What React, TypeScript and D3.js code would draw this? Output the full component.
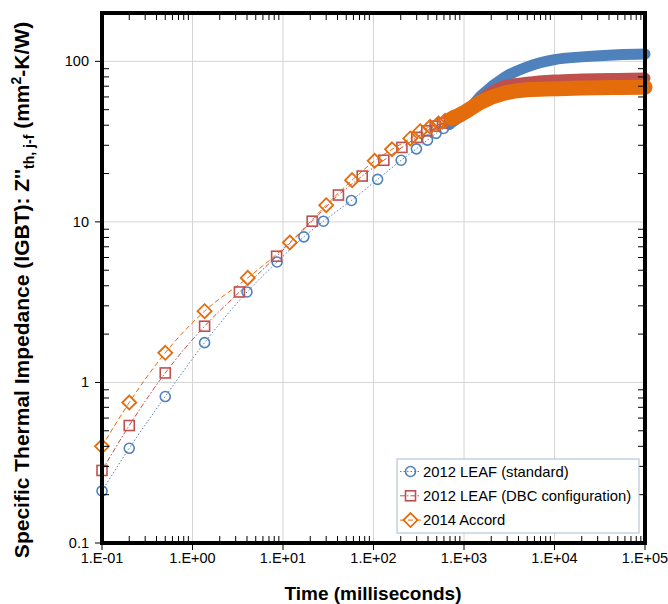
import React, { useEffect, useRef } from "react";
import * as d3 from "d3";

const W = 668;
const H = 604;
const FONT = "'Liberation Sans', Arial, sans-serif";

// 2012 LEAF (standard) - discrete points (ms, mm2-K/W)
const leafStdT = [0.1, 0.2, 0.5, 1.36, 4.0, 8.6, 17, 28, 57, 111, 202, 298, 395, 492, 593, 690];
const leafStdZ = [0.211, 0.389, 0.817, 1.77, 3.66, 5.63, 8.07, 10.1, 13.6, 18.4, 24.2, 28.5, 32.3, 35.6, 38.2, 40.6];
// dense tail (markers merge into a band)
const leafStdBandT = [690, 800, 1000, 1564, 2825, 5000, 10000, 20000, 50000, 100000];
const leafStdBandZ = [40.6, 43, 46.5, 61.5, 79.7, 92.4, 102.5, 106.6, 110, 111];

// 2012 LEAF (DBC configuration)
const leafDbcT = [0.1, 0.2, 0.5, 1.36, 3.3, 8.5, 21, 41, 75, 130, 206, 301, 388, 480, 578, 689];
const leafDbcZ = [0.283, 0.539, 1.146, 2.24, 3.66, 6.11, 10.1, 14.7, 19.3, 24.2, 29.1, 33.6, 36.9, 39.5, 41.3, 43];
const leafDbcBandT = [689, 800, 1000, 1564, 2825, 5000, 10000, 20000, 50000, 100000];
const leafDbcBandZ = [43, 44.5, 47, 58.5, 70.6, 74, 76.4, 77.5, 78.3, 78.6];

// 2014 Accord
const accordT = [0.1, 0.2, 0.5, 1.36, 4.08, 11.9, 30, 58, 103, 160, 255, 328, 423, 522, 618, 731];
const accordZ = [0.4, 0.75, 1.53, 2.78, 4.48, 7.44, 12.7, 18.2, 24, 28.3, 33.1, 36.7, 39.1, 41, 42.6, 44.1];
const accordBandT = [731, 800, 1000, 1564, 2825, 5000, 10000, 20000, 50000, 100000];
const accordBandZ = [44.1, 45, 48, 56, 63.4, 66.5, 67.4, 68.2, 68.8, 69];

const xTicks = [1e-1, 1e0, 1e1, 1e2, 1e3, 1e4, 1e5];
const xTickLabels = ["1.E-01", "1.E+00", "1.E+01", "1.E+02", "1.E+03", "1.E+04", "1.E+05"];
const yTicks = [0.1, 1, 10, 100];
const yTickLabels = ["0.1", "1", "10", "100"];

const seriesNames = ["2012 LEAF (standard)", "2012 LEAF (DBC configuration)", "2014 Accord"];
const seriesColors = ["#4f81bd", "#c0504d", "#e46c0a"];

export default function App() {
  const svgRef = useRef<SVGSVGElement | null>(null);

  useEffect(() => {
    const svg = d3.select(svgRef.current);
    svg.selectAll("*").remove();

    const m = { left: 102, top: 13, right: 645, bottom: 543 };
    const x = d3.scaleLog().domain([0.1, 1e5]).range([m.left, m.right]);
    const y = d3.scaleLog().domain([0.1, 200]).range([m.bottom, m.top]);

    // gridlines
    const grid = svg.append("g").attr("stroke", "#d4d4d4").attr("stroke-width", 1);
    xTicks.slice(1, -1).forEach((t) =>
      grid.append("line").attr("x1", x(t)).attr("x2", x(t)).attr("y1", m.top).attr("y2", m.bottom)
    );
    yTicks.slice(1).forEach((v) =>
      grid.append("line").attr("x1", m.left).attr("x2", m.right).attr("y1", y(v)).attr("y2", y(v))
    );

    const series = [
      { t: leafStdT, z: leafStdZ, bt: leafStdBandT, bz: leafStdBandZ, dash: "1.5,2", band: 11 },
      { t: leafDbcT, z: leafDbcZ, bt: leafDbcBandT, bz: leafDbcBandZ, dash: "5,2,1.5,2", band: 11 },
      { t: accordT, z: accordZ, bt: accordBandT, bz: accordBandZ, dash: "5,3", band: 15 },
    ];

    const line = d3
      .line<[number, number]>()
      .x((d) => x(d[0]))
      .y((d) => y(d[1]))
      .curve(d3.curveMonotoneX);

    const marker = (g: any, i: number, cx: number, cy: number) => {
      const c = seriesColors[i];
      if (i === 0) {
        g.append("circle").attr("cx", cx).attr("cy", cy).attr("r", 5)
          .attr("fill", "none").attr("stroke", c).attr("stroke-width", 1.6);
      } else if (i === 1) {
        g.append("rect").attr("x", cx - 5).attr("y", cy - 5).attr("width", 10).attr("height", 10)
          .attr("fill", "none").attr("stroke", c).attr("stroke-width", 1.6);
      } else {
        g.append("path").attr("d", `M${cx},${cy - 7}L${cx + 7},${cy}L${cx},${cy + 7}L${cx - 7},${cy}Z`)
          .attr("fill", "none").attr("stroke", c).attr("stroke-width", 1.8);
      }
    };

    // connecting lines
    series.forEach((s, i) => {
      const pts = s.t.map((t, k) => [t, s.z[k]] as [number, number]);
      svg.append("path").attr("d", line(pts)).attr("fill", "none")
        .attr("stroke", seriesColors[i]).attr("stroke-width", 1).attr("stroke-dasharray", s.dash);
    });

    // markers and dense bands
    series.forEach((s, i) => {
      const g = svg.append("g");
      s.t.forEach((t, k) => marker(g, i, x(t), y(s.z[k])));
      const bpts = s.bt.map((t, k) => [t, s.bz[k]] as [number, number]);
      g.append("path").attr("d", line(bpts)).attr("fill", "none")
        .attr("stroke", seriesColors[i]).attr("stroke-width", s.band).attr("stroke-linecap", "round");
    });

    // ticks
    const ticks = svg.append("g").attr("stroke", "#000").attr("stroke-width", 1);
    const minorX: number[] = [];
    for (let e = -1; e < 5; e++) for (let k = 2; k < 10; k++) minorX.push(k * Math.pow(10, e));
    const minorY: number[] = [];
    for (let e = -1; e < 3; e++) for (let k = 2; k < 10; k++) {
      const v = k * Math.pow(10, e);
      if (v <= 200) minorY.push(v);
    }
    minorX.forEach((t) => {
      ticks.append("line").attr("x1", x(t)).attr("x2", x(t)).attr("y1", m.bottom).attr("y2", m.bottom - 7);
      ticks.append("line").attr("x1", x(t)).attr("x2", x(t)).attr("y1", m.top).attr("y2", m.top + 7);
    });
    minorY.forEach((v) => {
      ticks.append("line").attr("x1", m.left).attr("x2", m.left + 7).attr("y1", y(v)).attr("y2", y(v));
      ticks.append("line").attr("x1", m.right).attr("x2", m.right - 7).attr("y1", y(v)).attr("y2", y(v));
    });
    xTicks.forEach((t) =>
      ticks.append("line").attr("x1", x(t)).attr("x2", x(t)).attr("y1", m.bottom).attr("y2", m.bottom + 7)
    );
    yTicks.forEach((v) =>
      ticks.append("line").attr("x1", m.left - 7).attr("x2", m.left).attr("y1", y(v)).attr("y2", y(v))
    );

    // frame
    svg.append("rect").attr("x", m.left).attr("y", m.top)
      .attr("width", m.right - m.left).attr("height", m.bottom - m.top)
      .attr("fill", "none").attr("stroke", "#000").attr("stroke-width", 4);

    // tick labels
    svg.append("g").selectAll("text").data(xTicks).join("text")
      .attr("x", (d) => x(d)).attr("y", m.bottom + 20).attr("text-anchor", "middle")
      .attr("font-family", FONT).attr("font-size", 14.5).attr("fill", "#000")
      .text((d, i) => xTickLabels[i]);
    svg.append("g").selectAll("text").data(yTicks).join("text")
      .attr("x", m.left - 13).attr("y", (d) => y(d) + 5).attr("text-anchor", "end")
      .attr("font-family", FONT).attr("font-size", 14.5).attr("fill", "#000")
      .text((d, i) => yTickLabels[i]);

    // axis titles
    svg.append("text").attr("x", 373).attr("y", 600).attr("text-anchor", "middle")
      .attr("font-family", FONT).attr("font-size", 19).attr("font-weight", "bold")
      .text("Time (milliseconds)");

    const yt = svg.append("text").attr("transform", "translate(29,290) rotate(-90)")
      .attr("text-anchor", "middle").attr("font-family", FONT).attr("font-size", 21)
      .attr("font-weight", "bold");
    yt.append("tspan").text("Specific Thermal Impedance (IGBT): Z''");
    yt.append("tspan").attr("font-size", 14).attr("dy", 5).text("th, j-f");
    yt.append("tspan").attr("dy", -5).text(" (mm");
    yt.append("tspan").attr("font-size", 14).attr("dy", -8).text("2");
    yt.append("tspan").attr("dy", 8).text("-K/W)");

    // legend
    const lg = svg.append("g");
    lg.append("rect").attr("x", 397).attr("y", 459).attr("width", 242).attr("height", 74)
      .attr("fill", "#fff").attr("stroke", "#a7bccf").attr("stroke-width", 1);
    seriesNames.forEach((name, i) => {
      const cy = 471.5 + i * 24.3;
      lg.append("line").attr("x1", 400).attr("x2", 421).attr("y1", cy).attr("y2", cy)
        .attr("stroke", seriesColors[i]).attr("stroke-width", 1).attr("stroke-dasharray", series[i].dash);
      marker(lg, i, 410.5, cy);
      lg.append("text").attr("x", 423).attr("y", cy + 5.3).attr("font-family", FONT)
        .attr("font-size", 14.8).attr("fill", "#000").text(name);
    });
  }, []);

  return (
    <svg
      ref={svgRef}
      width={W}
      height={H}
      style={{ position: "absolute", left: 0, top: 0, background: "#fff" }}
    />
  );
}
